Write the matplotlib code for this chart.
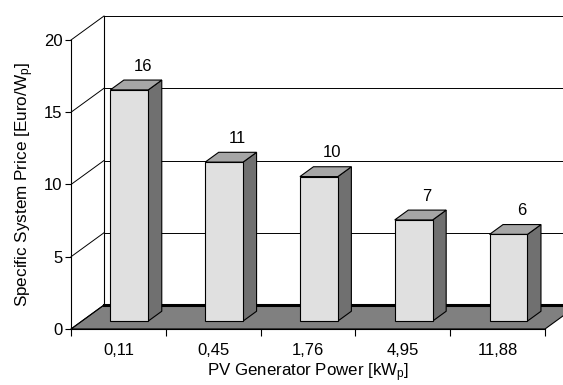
import numpy as np
import matplotlib.pyplot as plt
from matplotlib.patches import Polygon

plt.rcParams['font.family'] = ['Liberation Sans', 'DejaVu Sans']
plt.rcParams['mathtext.fontset'] = 'custom'
plt.rcParams['mathtext.rm'] = 'Liberation Sans'
plt.rcParams['mathtext.it'] = 'Liberation Sans'

categories = ['0,11', '0,45', '1,76', '4,95', '11,88']
prices = [16, 11, 10, 7, 6]
yticks = [0, 5, 10, 15, 20]

# fake 3d: depth offset of the back wall in data units
DX, DY = 0.348, 1.66
f0, f1 = 0.33, 0.74   # bar front / back depth fraction
bw = 0.40

fig = plt.figure(figsize=(5.63, 3.85), dpi=100)
ax = fig.add_axes([71 / 563, 1 - 329 / 385, 474 / 563, 289 / 385])
ax.set_xlim(-0.5, len(categories) - 0.5)
ax.set_ylim(0, 20)
n = len(categories)
xl, xr = -0.5, n - 0.5

# floor
ax.add_patch(Polygon([(xl, 0), (xr, 0), (xr + DX, DY), (xl + DX, DY)],
                     closed=True, fc='#808080', ec='black', lw=0.8, clip_on=False, zorder=1))
ax.plot([xl + DX, xr + DX], [DY, DY], color='black', lw=2.2, clip_on=False, zorder=2)

# back wall and side wall grid
ax.plot([xl + DX, xl + DX], [DY, 20 + DY], color='black', lw=0.8, clip_on=False, zorder=1)
for v in yticks[1:]:
    ax.plot([xl + DX, xr + DX], [v + DY, v + DY], color='black', lw=0.7, clip_on=False, zorder=1)
for v in yticks:
    ax.plot([xl, xl + DX], [v, v + DY], color='black', lw=0.7, clip_on=False, zorder=1)

# bars
d = f1 - f0
for i, v in enumerate(prices):
    x0 = i + f0 * DX - bw / 2
    x1 = x0 + bw
    b = f0 * DY
    t = b + v
    side = [(x1, b), (x1, t), (x1 + d * DX, t + d * DY), (x1 + d * DX, b + d * DY)]
    top = [(x0, t), (x1, t), (x1 + d * DX, t + d * DY), (x0 + d * DX, t + d * DY)]
    front = [(x0, b), (x1, b), (x1, t), (x0, t)]
    for pts, c in [(side, '#707070'), (top, '#a6a6a6'), (front, '#e0e0e0')]:
        ax.add_patch(Polygon(pts, closed=True, fc=c, ec='black', lw=0.8, clip_on=False, zorder=3))
    ax.annotate(str(v), (i + f0 * DX + d * DX, t + d * DY), xytext=(0, 10),
                textcoords='offset points', ha='center', va='center', fontsize=12)

for s in ['top', 'right']:
    ax.spines[s].set_visible(False)
ax.spines['left'].set_linewidth(0.8)
ax.spines['bottom'].set_linewidth(0.8)
ax.patch.set_alpha(0)

ax.set_yticks(yticks)
ax.tick_params(axis='y', direction='out', length=4, width=0.8, pad=2, labelsize=12)
ax.set_xticks(np.arange(n))
ax.set_xticklabels(categories)
ax.set_xticks(np.arange(n + 1) - 0.5, minor=True)
ax.tick_params(axis='x', which='major', length=0, pad=10, labelsize=12)
ax.tick_params(axis='x', which='minor', direction='out', length=5, width=0.8)

ax.set_xlabel('PV Generator Power [kW$_\\mathregular{p}$]', fontsize=12.2, labelpad=2.5)
ax.set_ylabel('Specific System Price [Euro/W$_\\mathregular{p}$]', fontsize=12.3, labelpad=6)

fig.savefig('out.png', dpi=100)
